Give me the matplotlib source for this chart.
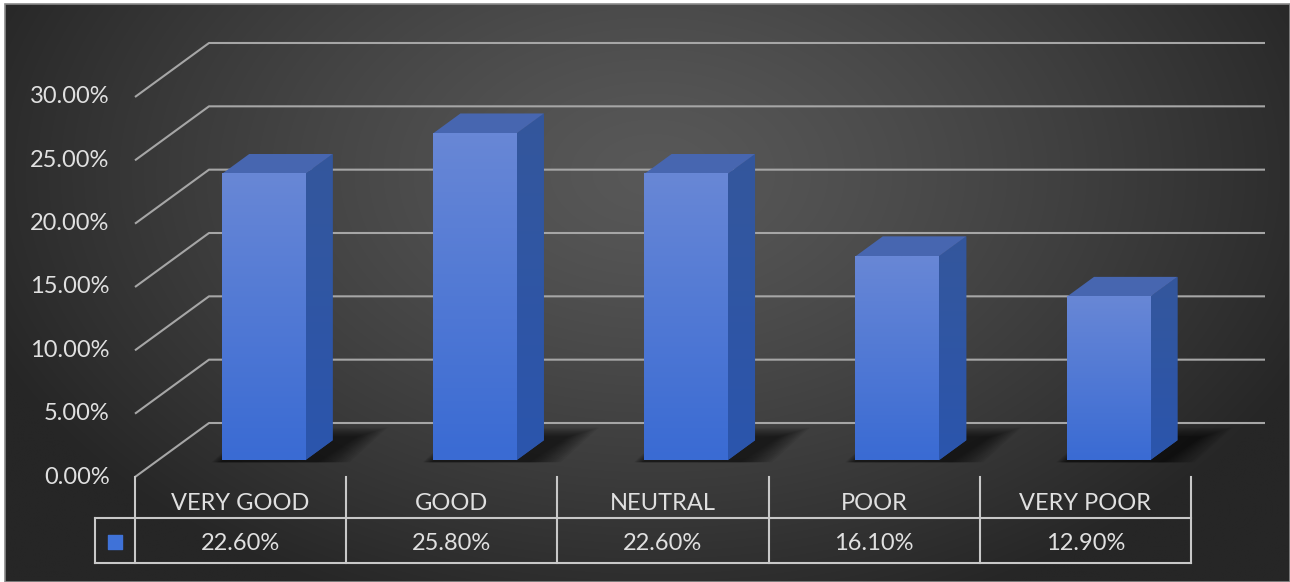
import numpy as np
import matplotlib.pyplot as plt
from matplotlib.patches import Polygon, Rectangle
from matplotlib.colors import LinearSegmentedColormap

categories = ['VERY GOOD', 'GOOD', 'NEUTRAL', 'POOR', 'VERY POOR']
values = [22.6, 25.8, 22.6, 16.1, 12.9]
value_labels = ['22.60%', '25.80%', '22.60%', '16.10%', '12.90%']
ticks = [0, 5, 10, 15, 20, 25, 30]

plt.rcParams['font.family'] = ['Lato', 'DejaVu Sans']

W, H = 1290, 582
fig = plt.figure(figsize=(W / 100, H / 100), dpi=100, facecolor='white')

# background (radial grey gradient, framed)
bg = fig.add_axes([0, 0, 1, 1])
bg.set_xlim(0, W)
bg.set_ylim(H, 0)
bg.axis('off')
yy, xx = np.mgrid[0:H, 0:W]
r = np.sqrt(((xx - 650) / 720.0) ** 2 + ((yy - 170) / 470.0) ** 2)
r = np.clip(r, 0, 1)
shade = (0x58 - (0x58 - 0x26) * r ** 1.3) / 255.0
img = np.dstack([shade, shade, shade])
bg.imshow(img, extent=(5, W, H, 4), zorder=0)
bg.add_patch(Rectangle((5, 4), W - 5, H - 4, fill=False, edgecolor='#8a8a8a', lw=1.2, zorder=1))

# chart axes: x in category units, y in percent (front plane)
px_cat = 211.2
px_pct = 12.667
x0_px, y0_px = 135, 477
ax = fig.add_axes([0, 0, 1, 1])
ax.patch.set_alpha(0)
ax.axis('off')
ax.set_xlim(-0.5 - x0_px / px_cat, -0.5 + (W - x0_px) / px_cat)
ax.set_ylim((y0_px - H) / px_pct, y0_px / px_pct)

DX = 74 / px_cat   # depth offset (categories)
DY = 54 / px_pct   # depth offset (percent)
n = len(categories)
grid_c = '#a6a6a6'
txt_c = '#e0e0e0'

# back wall gridlines with left wall diagonals
for t in ticks:
    ax.plot([-0.5, -0.5 + DX, n - 0.5 + DX], [t, t + DY, t + DY],
            color=grid_c, lw=1.5, zorder=2, solid_capstyle='butt')
    ax.text(-0.62, t, f'{t:.2f}%', ha='right', va='center',
            color=txt_c, fontsize=17)

# bars
f0, f1 = 0.31, 0.68
bw = 0.395
front_cmap = LinearSegmentedColormap.from_list('front', ['#6887d6', '#3a6bd3'])
side_cmap = LinearSegmentedColormap.from_list('side', ['#34579c', '#2b55ad'])
for i, v in enumerate(values):
    cx = i + f0 * DX
    xa, xb = cx - bw / 2, cx + bw / 2
    b = f0 * DY
    top = v + b
    d = f1 - f0
    # soft floor shadow
    for k in range(12):
        s = 0.16 * (1 - k / 12)
        ax.add_patch(Polygon([(xa - 0.3 * s, b - 0.15), (xb + 0.05 + s, b - 0.15),
                              (xb + d * DX + 0.1 + s, b + d * DY + 0.2 + s * 5),
                              (xa + d * DX, b + d * DY + 0.2 + s * 5)],
                             closed=True, facecolor='black', edgecolor='none',
                             alpha=0.06, zorder=3))
    # side face
    side = Polygon([(xb, b), (xb + d * DX, b + d * DY), (xb + d * DX, top + d * DY), (xb, top)],
                   closed=True, facecolor='#2e55a3', edgecolor='none', zorder=4)
    ax.add_patch(side)
    grad = np.linspace(0, 1, 100).reshape(-1, 1)
    im = ax.imshow(grad, cmap=side_cmap, aspect='auto', origin='upper',
                   extent=(xb, xb + d * DX, b, top + d * DY), zorder=4)
    im.set_clip_path(side)
    # top face
    ax.add_patch(Polygon([(xa, top), (xb, top), (xb + d * DX, top + d * DY), (xa + d * DX, top + d * DY)],
                         closed=True, facecolor='#4766b0', edgecolor='none', zorder=5))
    # front face
    ax.imshow(grad, cmap=front_cmap, aspect='auto', origin='upper',
              extent=(xa, xb, b, top), zorder=6)

# data table
line_c = '#c8c8c8'
row1 = -3.24
row2 = -6.79
leg_x = -0.5 - 40 / px_cat
for k in range(n + 1):
    ax.plot([k - 0.5, k - 0.5], [0, row2], color=line_c, lw=1.5, zorder=7)
ax.plot([leg_x, n - 0.5], [row1, row1], color=line_c, lw=1.5, zorder=7)
ax.plot([leg_x, n - 0.5], [row2, row2], color=line_c, lw=1.5, zorder=7)
ax.plot([leg_x, leg_x], [row1, row2], color=line_c, lw=1.5, zorder=7)
for i in range(n):
    ax.text(i, row1 / 2 - 0.45, categories[i], ha='center', va='center',
            color=txt_c, fontsize=17)
    ax.text(i, (row1 + row2) / 2 - 0.2, value_labels[i], ha='center', va='center',
            color=txt_c, fontsize=17)
ax.scatter([(leg_x - 0.5) / 2], [(row1 + row2) / 2 - 0.1], marker='s', s=100,
           color='#3f72d8', zorder=8)

fig.savefig('out.png', dpi=100, facecolor='white')
